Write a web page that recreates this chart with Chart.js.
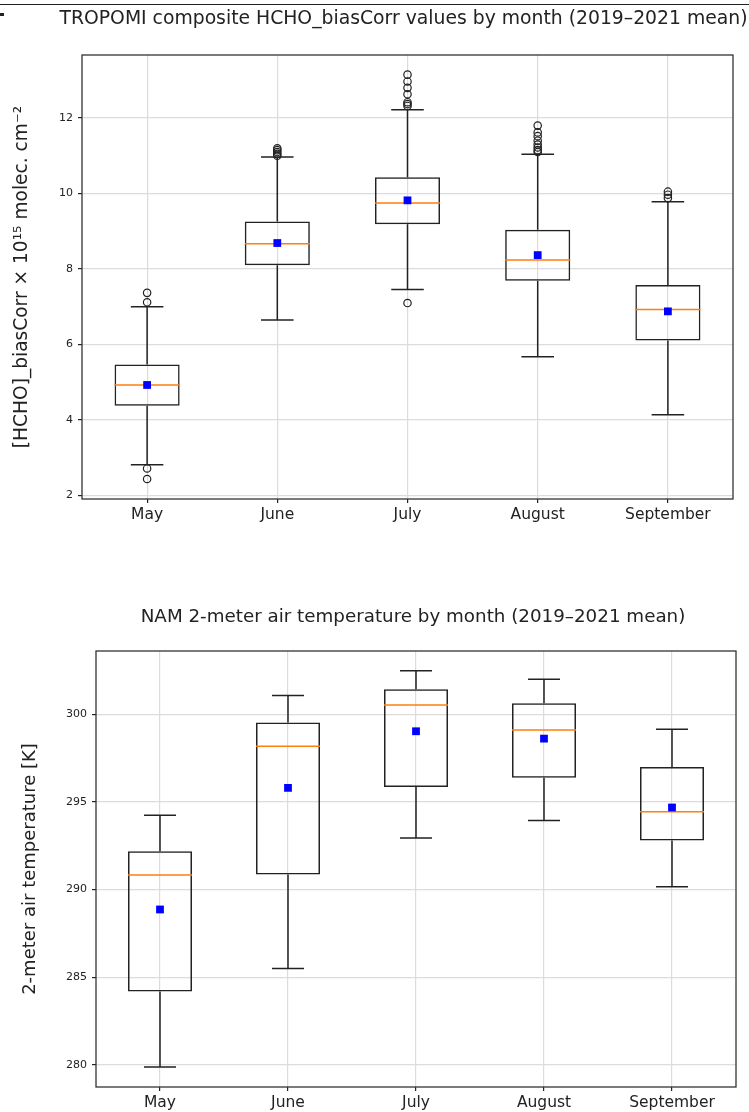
<!DOCTYPE html>
<html>
<head>
<meta charset="utf-8">
<script src="https://cdn.jsdelivr.net/npm/chart.js@4.4.0/dist/chart.umd.min.js"></script>
<style>
  html, body { margin: 0; padding: 0; background: #fff; }
  #page { position: relative; width: 749px; height: 1112px; overflow: hidden; }
  canvas { position: absolute; left: 0; }
  #hchoChart { top: 0; }
  #tempChart { top: 560px; }
  .rule { position: absolute; left: 0; top: 4px; width: 749px; height: 1px; background: #222; }
  .mark { position: absolute; left: 0; top: 13px; width: 4px; height: 3px; background: #222; }
</style>
</head>
<body>
<div id="page">
  <div class="rule"></div>
  <div class="mark"></div>
  <canvas id="hchoChart" width="749" height="560"></canvas>
  <canvas id="tempChart" width="749" height="552"></canvas>
</div>
<script>
const months = ["May", "June", "July", "August", "September"];

// TROPOMI HCHO_biasCorr, x 10^15 molec. cm^-2
const hchoLow = [2.82, 6.65, 7.46, 5.68, 4.14];
const hchoQ1 = [4.38, 8.10, 9.19, 7.69, 6.11];
const hchoMedian = [4.93, 8.67, 9.75, 8.24, 6.93];
const hchoQ3 = [5.47, 9.26, 10.43, 9.04, 7.58];
const hchoHigh = [7.0, 10.97, 12.22, 11.04, 9.78];
const hchoMean = [4.93, 8.69, 9.82, 8.37, 6.88];
const hchoOutliers = [
  [7.37, 7.12, 2.72, 2.44],
  [11.2, 11.15, 11.1, 11.05, 11.0],
  [13.15, 12.97, 12.8, 12.63, 12.42, 12.37, 12.32, 7.1],
  [11.8, 11.62, 11.52, 11.4, 11.3, 11.22, 11.15, 11.1],
  [10.05, 9.97, 9.88]
];
const hchoTicks = [2, 4, 6, 8, 10, 12];

// NAM 2-m air temperature, K
const tempLow = [279.87, 285.49, 292.94, 293.94, 290.15];
const tempQ1 = [284.18, 290.85, 295.85, 296.37, 292.79];
const tempMedian = [290.83, 298.17, 300.53, 299.1, 294.43];
const tempQ3 = [292.18, 299.53, 301.43, 300.63, 296.99];
const tempHigh = [294.24, 301.07, 302.49, 302.0, 299.14];
const tempMean = [288.86, 295.8, 299.03, 298.61, 294.68];
const tempTicks = [280, 285, 290, 295, 300];

const FONT = "'DejaVu Sans', 'Liberation Sans', sans-serif";

// axes frame + title centred over the plot (no width squeeze)
const frame = {
  id: "frame",
  afterDatasetsDraw(chart, args, opts) {
    const a = chart.chartArea;
    const ctx = chart.ctx;
    ctx.save();
    ctx.strokeStyle = "#333";
    ctx.lineWidth = 1.3;
    ctx.strokeRect(a.left, a.top, a.right - a.left, a.bottom - a.top);
    ctx.fillStyle = "#222";
    ctx.font = opts.size + "px " + FONT;
    ctx.textAlign = "center";
    ctx.textBaseline = "middle";
    ctx.fillText(opts.text, (a.left + a.right) / 2 + opts.dx, opts.y);
    ctx.restore();
  }
};

function boxChart(id, s, o) {
  const boxes = [], medians = [], whiskers = [], means = [], fliers = [];
  months.forEach((m, i) => {
    const x = i + 1;
    boxes.push({ x: x, y: [s.q1[i], s.q3[i]] });
    medians.push({ x: x - 0.25, y: s.median[i] }, { x: x + 0.25, y: s.median[i] }, { x: x, y: null });
    whiskers.push(
      { x: x, y: s.q3[i] }, { x: x, y: s.high[i] }, { x: x, y: null },
      { x: x - 0.125, y: s.high[i] }, { x: x + 0.125, y: s.high[i] }, { x: x, y: null },
      { x: x, y: s.q1[i] }, { x: x, y: s.low[i] }, { x: x, y: null },
      { x: x - 0.125, y: s.low[i] }, { x: x + 0.125, y: s.low[i] }, { x: x, y: null }
    );
    means.push({ x: x, y: s.mean[i] });
    if (s.outliers) s.outliers[i].forEach(v => fliers.push({ x: x, y: v }));
  });

  return new Chart(document.getElementById(id), {
    type: "bar",
    data: {
      datasets: [
        {
          type: "bar",
          data: boxes,
          backgroundColor: "rgba(255,255,255,0)",
          borderColor: "#222",
          borderWidth: 1.5,
          borderSkipped: false,
          categoryPercentage: 1.0,
          barPercentage: 0.5,
          order: 3
        },
        {
          type: "line",
          data: whiskers,
          borderColor: "#222",
          borderWidth: 1.5,
          pointRadius: 0,
          spanGaps: false,
          order: 2
        },
        {
          type: "line",
          data: medians,
          borderColor: "#ff7f0e",
          borderWidth: 1.5,
          pointRadius: 0,
          spanGaps: false,
          order: 1
        },
        {
          type: "scatter",
          data: fliers,
          pointStyle: "circle",
          pointRadius: 3.7,
          backgroundColor: "rgba(255,255,255,0)",
          borderColor: "#222",
          borderWidth: 1.2,
          order: 2
        },
        {
          type: "scatter",
          data: means,
          pointStyle: "rect",
          pointRadius: 5.5,
          backgroundColor: "#0000ff",
          borderColor: "#0000ff",
          borderWidth: 0,
          order: 0
        }
      ]
    },
    options: {
      responsive: false,
      animation: false,
      layout: { padding: { left: 0, right: o.padRight, top: o.padTop, bottom: 0 } },
      scales: {
        x: {
          type: "linear",
          min: 0.5,
          max: 5.5,
          offset: false,
          afterBuildTicks: scale => { scale.ticks = months.map((m, i) => ({ value: i + 1 })); },
          afterFit: scale => { scale.height = o.xHeight; },
          ticks: {
            callback: v => months[v - 1],
            color: "#222",
            padding: 3,
            maxRotation: 0,
            font: { family: FONT, size: 15.5 }
          },
          grid: { offset: false, color: "#dcdcdc", lineWidth: 1.2, tickColor: "#222", tickLength: 4 },
          border: { display: false }
        },
        y: {
          min: o.yMin,
          max: o.yMax,
          afterBuildTicks: scale => { scale.ticks = o.ticks.map(v => ({ value: v })); },
          afterFit: scale => { scale.width = o.yWidth; },
          ticks: { color: "#222", padding: 5, font: { family: FONT, size: 11 } },
          grid: { color: "#dcdcdc", lineWidth: 1.2, tickColor: "#222", tickLength: 4 },
          border: { display: false },
          title: {
            display: true,
            text: o.yTitle,
            color: "#222",
            padding: { top: o.yTitlePad, bottom: 0 },
            font: { family: FONT, size: o.yTitleSize }
          }
        }
      },
      plugins: {
        legend: { display: false },
        tooltip: { enabled: false },
        title: { display: false },
        frame: { text: o.title, size: o.titleSize, y: o.titleY, dx: o.titleDx }
      }
    },
    plugins: [frame]
  });
}

boxChart("hchoChart", {
  low: hchoLow, q1: hchoQ1, median: hchoMedian, q3: hchoQ3, high: hchoHigh,
  mean: hchoMean, outliers: hchoOutliers
}, {
  title: "TROPOMI composite HCHO_biasCorr values by month (2019\u20132021 mean)",
  yTitle: "[HCHO]_biasCorr \u00d7 10\u00b9\u2075 molec. cm\u207b\u00b2",
  ticks: hchoTicks, yMin: 1.91, yMax: 13.67,
  padRight: 16, padTop: 55, yWidth: 82, xHeight: 61, yTitlePad: 11, yTitleSize: 18.6,
  titleSize: 18.8, titleY: 19.5, titleDx: -4
});

boxChart("tempChart", {
  low: tempLow, q1: tempQ1, median: tempMedian, q3: tempQ3, high: tempHigh,
  mean: tempMean
}, {
  title: "NAM 2-meter air temperature by month (2019\u20132021 mean)",
  yTitle: "2-meter air temperature [K]",
  ticks: tempTicks, yMin: 278.73, yMax: 303.61,
  padRight: 13, padTop: 91, yWidth: 96, xHeight: 25, yTitlePad: 20, yTitleSize: 18,
  titleSize: 18.3, titleY: 57, titleDx: -3
});
</script>
</body>
</html>
